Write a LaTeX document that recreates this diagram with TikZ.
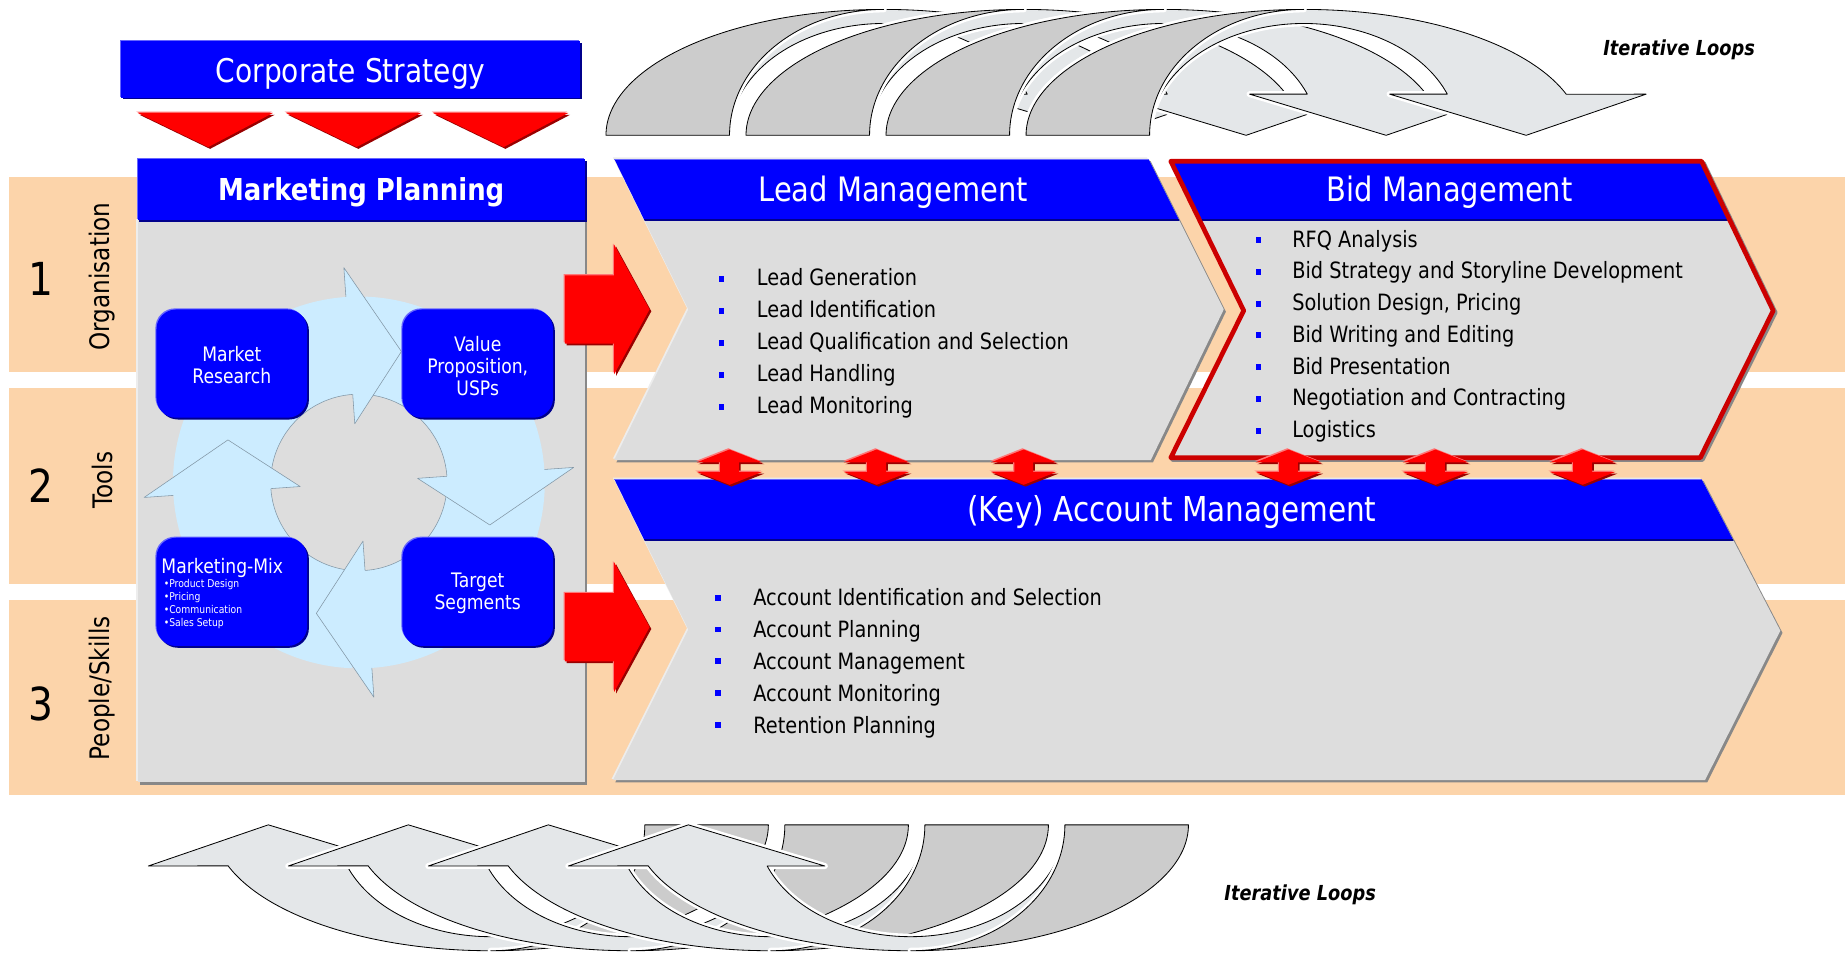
\documentclass[tikz,border=0pt]{standalone}
\usepackage{fontspec}
\setmainfont{DejaVu Sans}[FakeStretch=0.86]

\definecolor{bandpeach}{RGB}{252,212,170}
\definecolor{panelgray}{RGB}{221,221,221}
\definecolor{shadowgray}{RGB}{136,136,136}
\definecolor{boxblue}{RGB}{0,0,255}
\definecolor{lightblue}{RGB}{102,102,255}
\definecolor{darkblue}{RGB}{0,0,140}
\definecolor{arrowred}{RGB}{255,0,0}
\definecolor{lightred}{RGB}{255,120,120}
\definecolor{darkred}{RGB}{153,0,0}
\definecolor{bidred}{RGB}{204,0,0}
\definecolor{ringblue}{RGB}{204,236,255}
\definecolor{ringedge}{RGB}{130,150,165}
\definecolor{loopgray}{RGB}{204,204,204}
\definecolor{marble}{RGB}{228,231,233}

\tikzset{
  bluebevel/.style={fill=boxblue,
    preaction={fill=darkblue,transform canvas={xshift=1.3pt,yshift=-1.3pt}},
    preaction={fill=lightblue,transform canvas={xshift=-0.8pt,yshift=0.8pt}}},
  redbevel/.style={fill=arrowred,
    preaction={fill=darkred,transform canvas={xshift=1.3pt,yshift=-1.3pt}},
    preaction={fill=lightred,transform canvas={xshift=-0.9pt,yshift=0.9pt}}},
  graybevel/.style={fill=panelgray,
    preaction={fill=shadowgray,transform canvas={xshift=1.6pt,yshift=-1.6pt}},
    preaction={fill=white!93!black,transform canvas={xshift=-1pt,yshift=1pt}}},
  loopback/.style={fill=marble,draw=black,line width=0.6pt,
    preaction={draw=white,line width=4.4pt}},
  loopfront/.style={fill=loopgray,draw=black,line width=0.6pt,
    preaction={draw=white,line width=4.4pt}},
  cyclebox/.style={bluebevel,rounded corners=0.5cm,minimum width=3.84cm,
    minimum height=2.76cm,inner sep=0},
  cycletext/.style={text=white,font=\fontsize{14.5}{16.2}\selectfont,align=center},
  headtext/.style={text=white,anchor=base,inner sep=0,
    font=\fontsize{24.4}{28}\selectfont},
  listitem/.style={anchor=base west,inner sep=0,font=\fontsize{16.3}{19}\selectfont},
  bandnum/.style={font=\fontsize{33}{36}\selectfont},
  bandlabel/.style={rotate=90,font=\fontsize{19.5}{22}\selectfont},
  looptext/.style={anchor=base,font=\bfseries\itshape\fontsize{15}{18}\selectfont}
}

\begin{document}
\begin{tikzpicture}[x=0.03cm,y=-0.03cm,line join=round]
\useasboundingbox (0,0) rectangle (1568,812);

% the three bands
\foreach \y in {150,330,510}
  \fill[bandpeach] (8,\y) rectangle (1568,\y+166);
\node[bandnum] (n1) at (35,237) {1};
\node[bandnum] (n2) at (35,413) {2};
\node[bandnum] (n3) at (35,598) {3};
\node[bandlabel] (l1) at (87,235) {Organisation};
\node[bandlabel] (l2) at (87,408) {Tools};
\node[bandlabel] (l3) at (87,585) {People/Skills};

% iterative loops, top row
\foreach \c in {751,870,989,1108} {
  \filldraw[loopback] (\c-236,115)
    arc[start angle=180,end angle=341,x radius=236,y radius=107]
    -- (\c+291,80) -- (\c+189,115) -- (\c+73,80) -- (\c+122,80)
    arc[start angle=338.4,end angle=180,x radius=131,y radius=95]
    -- cycle;
  \filldraw[loopfront] (\c-236,115)
    arc[start angle=180,end angle=270,x radius=236,y radius=107]
    arc[start angle=270,end angle=180,x radius=131,y radius=107]
    -- cycle;
}
\node[looptext] (looptop) at (1427,47) {Iterative Loops};

% iterative loops, bottom row (same arrows turned over)
\begin{scope}[rotate around={180:(762.5,408)}]
\foreach \c in {1108,989,870,751} {
  \filldraw[loopback] (\c-236,115)
    arc[start angle=180,end angle=341,x radius=236,y radius=107]
    -- (\c+291,80) -- (\c+189,115) -- (\c+73,80) -- (\c+122,80)
    arc[start angle=338.4,end angle=180,x radius=131,y radius=95]
    -- cycle;
  \filldraw[loopfront] (\c-236,115)
    arc[start angle=180,end angle=270,x radius=236,y radius=107]
    arc[start angle=270,end angle=180,x radius=131,y radius=107]
    -- cycle;
}
\end{scope}
\node[looptext] (loopbottom) at (1105,765) {Iterative Loops};

% corporate strategy
\fill[bluebevel] (103,35) rectangle (493,83);
\node[headtext,font=\fontsize{23.7}{28}\selectfont] (corp) at (298,70) {Corporate Strategy};
\foreach \x in {117,243,368}
  \fill[redbevel] (\x,96) -- (\x+115,96) -- (\x+60,125) -- cycle;

% marketing planning panel
\fill[graybevel] (117,187) rectangle (497,665);
\fill[bluebevel] (117,135) rectangle (497,187);
\node[headtext,font=\bfseries\fontsize{21.9}{26}\selectfont] (mp) at (307,170) {Marketing Planning};

% planning cycle
\begin{scope}[shift={(305,410)}]
  \foreach \t in {-72,18,108,198} {
    \fill[ringblue] (\t-106:158) arc[start angle=\t-106,end angle=\t-20,radius=158]
      -- (\t-20:75) arc[start angle=\t-20,end angle=\t-106,radius=75] -- cycle;
    \draw[ringedge] (\t-106:75) arc[start angle=\t-106,end angle=\t-22,radius=75];
  }
  \foreach \t in {-72,18,108,198} {
    \fill[ringblue] (\t-22:183) -- (\t:117) -- (\t-22:50) -- cycle;
    \draw[ringedge] (\t-22:75) -- (\t-22:50) -- (\t:117) -- (\t-22:183) -- (\t-22:158);
  }
\end{scope}
\node[cyclebox] (research) at (197,309) {};
\node[cyclebox] (value) at (406,309) {};
\node[cyclebox] (mix) at (197,503) {};
\node[cyclebox] (target) at (406,503) {};
\node[cycletext] (researchtext) at (197,310.5) {Market\\Research};
\node[cycletext] (valuetext) at (406,311) {Value\\Proposition,\\USPs};
\node[cycletext] (targettext) at (406,504) {Target\\Segments};
\node[anchor=base west,text=white,inner sep=0,font=\fontsize{14.5}{16}\selectfont]
  (mixtext) at (137,487.5) {Marketing-Mix};
\foreach \t [count=\i] in {Product Design,Pricing,Communication,Sales Setup}
  \node[anchor=base west,text=white,inner sep=0,font=\fontsize{7.8}{9}\selectfont]
    (mix\i) at (139,488.5+11*\i) {•\t};

% lead management
\fill[graybevel] (522,135) -- (976,135) -- (1040,263) -- (978,391) -- (522,391) -- (585,263) -- cycle;
\begin{scope}
  \clip (522,135) -- (976,135) -- (1040,263) -- (978,391) -- (522,391) -- (585,263) -- cycle;
  \fill[boxblue] (500,135) rectangle (1100,187);
  \draw[darkblue,line width=1.2pt] (500,187) -- (1100,187);
  \draw[lightblue,line width=1.2pt] (500,135.5) -- (1100,135.5);
\end{scope}
\node[headtext] (lead) at (759,171) {Lead Management};
\foreach \t [count=\i] in {Lead Generation,Lead Identification,
    Lead Qualification and Selection,Lead Handling,Lead Monitoring} {
  \fill[boxblue] (611,207.3+27.2*\i) rectangle (615.5,212.3+27.2*\i);
  \node[listitem] (lead\i) at (643,215.8+27.2*\i) {\t};
}

% bid management
\fill[panelgray,preaction={draw=shadowgray,line width=3.4pt,
    transform canvas={xshift=1.4pt,yshift=-1.4pt}}]
  (995,137) -- (1446,137) -- (1507,264) -- (1445,389) -- (995,389) -- (1057,264) -- cycle;
\begin{scope}
  \clip (995,137) -- (1446,137) -- (1507,264) -- (1445,389) -- (995,389) -- (1057,264) -- cycle;
  \fill[boxblue] (980,135) rectangle (1520,187);
  \draw[darkblue,line width=1.2pt] (980,187) -- (1520,187);
\end{scope}
\draw[bidred,line width=3.4pt]
  (995,137) -- (1446,137) -- (1507,264) -- (1445,389) -- (995,389) -- (1057,264) -- cycle;
\node[headtext] (bid) at (1232,171) {Bid Management};
\foreach \t [count=\i] in {RFQ Analysis,Bid Strategy and Storyline Development,
    {Solution Design, Pricing},Bid Writing and Editing,Bid Presentation,
    Negotiation and Contracting,Logistics} {
  \fill[boxblue] (1067,174.5+27*\i) rectangle (1071.5,179.5+27*\i);
  \node[listitem] (bid\i) at (1098,183+27*\i) {\t};
}

% account management
\fill[graybevel] (522,407) -- (1446,407) -- (1513,536) -- (1449,663) -- (521,663) -- (585,535) -- cycle;
\begin{scope}
  \clip (522,407) -- (1446,407) -- (1513,536) -- (1449,663) -- (521,663) -- (585,535) -- cycle;
  \fill[boxblue] (500,407) rectangle (1530,459);
  \draw[darkblue,line width=1.2pt] (500,459) -- (1530,459);
  \draw[lightblue,line width=1.2pt] (500,407.5) -- (1530,407.5);
\end{scope}
\node[headtext,font=\fontsize{24.9}{29}\selectfont] (account) at (996,443) {(Key) Account Management};
\foreach \t [count=\i] in {Account Identification and Selection,Account Planning,
    Account Management,Account Monitoring,Retention Planning} {
  \fill[boxblue] (608,478.5+27*\i) rectangle (612.5,483.5+27*\i);
  \node[listitem] (acc\i) at (640,488+27*\i) {\t};
}

% red arrows into lead and account management
\foreach \y in {263,533}
  \fill[redbevel] (480,\y-29) -- (522,\y-29) -- (522,\y-55) -- (552,\y)
    -- (522,\y+55) -- (522,\y+29) -- (480,\y+29) -- cycle;

% exchange arrows
\foreach \x in {620,745,870,1095,1220,1345}
  \fill[redbevel] (\x,382) -- (\x+28,393) -- (\x+8,393) -- (\x+8,401) -- (\x+28,401)
    -- (\x,412) -- (\x-28,401) -- (\x-8,401) -- (\x-8,393) -- (\x-28,393) -- cycle;

\end{tikzpicture}
\end{document}
